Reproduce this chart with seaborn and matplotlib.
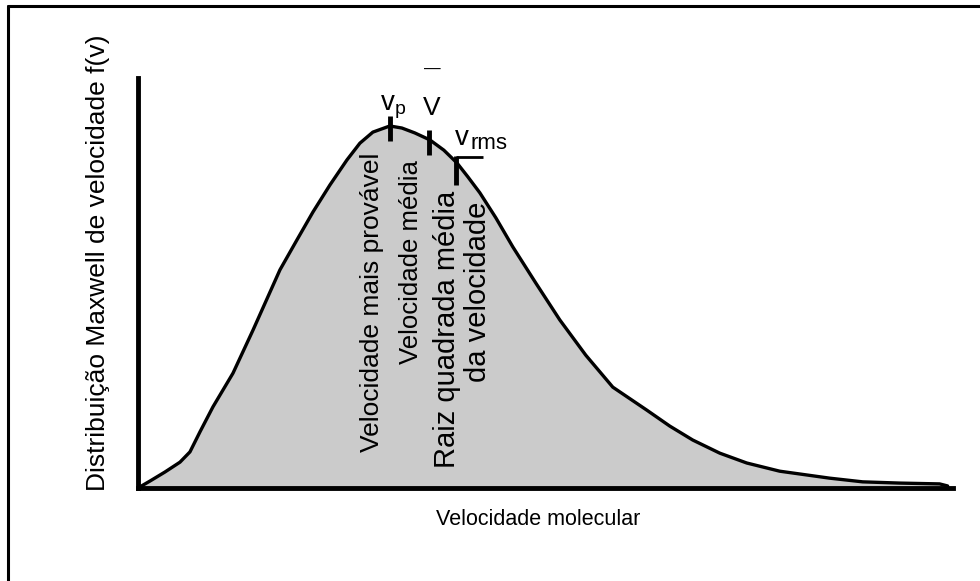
import numpy as np
import matplotlib
matplotlib.use("Agg")
import matplotlib.pyplot as plt
import seaborn as sns
from matplotlib.lines import Line2D

# Données (vitesse en unités arbitraires, f(v) normalisé)
vitesse = [0.0, 0.147, 0.33, 0.514, 0.636, 0.759, 0.918, 1.163, 1.408, 1.738,
           1.946, 2.142, 2.350, 2.558, 2.717, 2.876, 3.084, 3.231, 3.390, 3.574,
           3.745, 3.905, 4.039, 4.186, 4.382, 4.590, 4.871, 5.165, 5.483, 5.814,
           6.230, 6.512, 6.793, 7.124, 7.454, 7.858, 8.470, 8.874, 9.327, 9.816,
           9.914]
densite = [0.0, 0.017, 0.039, 0.063, 0.088, 0.137, 0.198, 0.280, 0.385, 0.532,
           0.605, 0.673, 0.739, 0.800, 0.841, 0.868, 0.883, 0.878, 0.866, 0.849,
           0.824, 0.793, 0.759, 0.720, 0.659, 0.588, 0.500, 0.410, 0.324, 0.246,
           0.190, 0.151, 0.117, 0.085, 0.061, 0.041, 0.024, 0.015, 0.012, 0.010,
           0.005]

# vitesses caractéristiques
v_p = 3.08
v_moy = 3.56
v_rms = 3.90

sns.set_theme(style="white")
plt.rcParams['font.family'] = ['Liberation Sans', 'DejaVu Sans']
plt.rcParams['mathtext.fontset'] = 'custom'
plt.rcParams['mathtext.rm'] = 'Liberation Sans'
plt.rcParams['text.color'] = 'black'
plt.rcParams['axes.labelcolor'] = 'black'

fig = plt.figure(figsize=(9.8, 5.81), dpi=100)
ax = fig.add_axes([138 / 980, 93 / 581, 815 / 980, 410 / 581])

sns.lineplot(x=vitesse, y=densite, sort=False, color='black', linewidth=2.4, ax=ax)
ax.fill_between(vitesse, densite, 0, color='#cbcbcb', zorder=0)

ax.set_xlim(0, 9.98)
ax.set_ylim(0, 1.0)
ax.set_xticks([])
ax.set_yticks([])
for s in ['top', 'right']:
    ax.spines[s].set_visible(False)
for s in ['left', 'bottom']:
    ax.spines[s].set_color('black')
    ax.spines[s].set_linewidth(3.5)

# petits traits sur la courbe
for v in [v_p, v_moy]:
    yc = np.interp(v, vitesse, densite)
    ax.plot([v, v], [yc - 0.037, yc + 0.024], color='black', lw=3.5, solid_capstyle='butt')
yc = np.interp(v_rms, vitesse, densite)
ax.plot([v_rms, v_rms], [yc - 0.054, yc + 0.016], color='black', lw=3.5, solid_capstyle='butt')
ax.plot([v_rms, v_rms + 0.32], [yc + 0.014, yc + 0.014], color='black', lw=2, solid_capstyle='butt')

# étiquettes
ax.text(2.96, 0.922, r'v$_{\mathregular{p}}$', fontsize=20, ha='left', va='baseline')
ax.text(3.60, 0.910, 'V', fontsize=19, ha='center', va='baseline')
ax.text(3.60, 1.02, '\u2014', fontsize=12, ha='center', va='center', clip_on=False)
ax.text(3.88, 0.837, 'v', fontsize=20, ha='left', va='baseline')
ax.text(4.07, 0.827, 'rms', fontsize=16, ha='left', va='baseline')

ax.text(2.86, 0.817, 'Velocidade mais provável', rotation=90, fontsize=19,
        ha='center', va='top')
ax.text(3.34, 0.800, 'Velocidade média', rotation=90, fontsize=18.5,
        ha='center', va='top')
ax.text(3.78, 0.049, 'Raiz quadrada média', rotation=90, fontsize=21,
        ha='center', va='bottom')
ax.text(4.16, 0.259, 'da velocidade', rotation=90, fontsize=21,
        ha='center', va='bottom')

ax.set_xlabel('Velocidade molecular', fontsize=15.5)
ax.xaxis.set_label_coords(0.491, -0.052)
ax.set_ylabel('Distribuição Maxwell de velocidade f(v)', fontsize=19)
ax.yaxis.set_label_coords(-0.034, 0.549)

# cadre de l'image
fig.add_artist(Line2D([7.5 / 980, 1], [1 - 5.5 / 581, 1 - 5.5 / 581], color='black', lw=2.2))
fig.add_artist(Line2D([7.5 / 980, 7.5 / 980], [0, 1 - 5.5 / 581], color='black', lw=2.2))

fig.savefig('out.png', dpi=100)
